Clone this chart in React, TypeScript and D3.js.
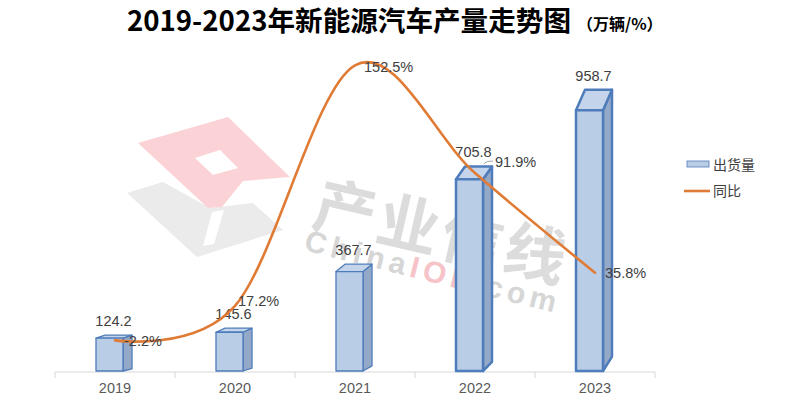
import React from 'react';
import * as d3 from 'd3';

const years = ['2019', '2020', '2021', '2022', '2023'];
const output = [124.2, 145.6, 367.7, 705.8, 958.7];
const yoy = [-2.2, 17.2, 152.5, 91.9, 35.8];
const yoyLabels = ['-2.2%', '17.2%', '152.5%', '91.9%', '35.8%'];
const outputLabels = ['124.2', '145.6', '367.7', '705.8', '958.7'];

const W = 788, H = 403;
const AXIS_Y = 372;
const LBL_OFF: [number, number][] = [[9, 6], [3, 0], [9, 7], [20, -6], [10, 5]];

export default function App() {
  const x = d3.scaleBand<string>().domain(years).range([55, 655]);
  const yL = d3.scaleLinear().domain([0, 1000]).range([AXIS_Y, AXIS_Y - 273]);
  const yR = d3.scaleLinear().domain([-20, 160]).range([AXIS_Y, 52]);
  const cx = (y: string) => (x(y) as number) + x.bandwidth() / 2;

  const pts: [number, number][] = years.map((y, i) => [cx(y), yR(yoy[i])]);
  const line = d3.line().curve(d3.curveCatmullRom.alpha(0))(pts) as string;

  const font = '"Liberation Sans", Arial, sans-serif';
  const cjk = '"Noto Sans CJK SC", "Noto Sans", sans-serif';
  const stroke = '#4F7CBA';
  const fs = 14.5;

  return (
    <svg width={W} height={H} style={{ position: 'absolute', left: 0, top: 0, background: '#fff' }}>
      {/* watermark */}
      <g>
        <polygon points="127,193 163,182 210,208 253,203 283,230 197,257" fill="#ebebeb" />
        <polygon points="138,143 228,117 290,177 243,181 222,207 208,208" fill="#fbd3d6" />
        <polygon points="195,158 220,150 238,168 213,175" fill="#ffffff" />
        <polygon points="212,212 224,210 214,244 203,246" fill="#ffffff" />
        <g transform="translate(310,225) rotate(13)">
          <text fontFamily={cjk} fontWeight={700} fontSize={62} fill="#dcdcdc" letterSpacing={3}>产业信线</text>
        </g>
        <g transform="translate(303,250) rotate(14)">
          <text fontFamily={font} fontWeight={700} fontSize={30} fill="#d6d6d6" letterSpacing={5}>
            China<tspan fill="#f6c4c8">IOL</tspan>.com
          </text>
        </g>
      </g>

      {/* title */}
      <text x={127} y={31} fontFamily={cjk} fontWeight={700} fontSize={27.6} fill="#000">2019-2023年新能源汽车产量走势图</text>
      <text x={577} y={30} fontFamily={cjk} fontWeight={700} fontSize={16} fill="#000">（万辆/%）</text>

      {/* axis */}
      <line x1={55} x2={655} y1={AXIS_Y} y2={AXIS_Y} stroke="#d9d9d9" strokeWidth={1} />
      {d3.range(years.length + 1).map(i => {
        const xx = 55 + i * x.bandwidth();
        return <line key={i} x1={xx} x2={xx} y1={AXIS_Y} y2={AXIS_Y + 6} stroke="#d9d9d9" />;
      })}
      {years.map(y => (
        <text key={y} x={cx(y)} y={393} textAnchor="middle" fontFamily={font} fontSize={fs} fill="#595959">{y}</text>
      ))}

      {/* bars */}
      {years.map((y, i) => {
        const c = cx(y);
        const x0 = c - 19, x1 = c + 8;
        const t = yL(output[i]);
        const base = AXIS_Y - 1;
        const dx = 9;
        const k = (c - cx(years[0])) / x.bandwidth();
        const dy = 3 + k * k * 1.1;
        const dyb = dy * 0.7;
        const sw = i < 3 ? 1.3 : 2.5;
        return (
          <g key={y} stroke={stroke} strokeWidth={sw} strokeLinejoin="round">
            <polygon points={`${x1},${t} ${x1 + dx},${t - dy} ${x1 + dx},${base - dyb} ${x1},${base}`} fill="#94A9C8" />
            <polygon points={`${x0},${t} ${x0 + dx},${t - dy} ${x1 + dx},${t - dy} ${x1},${t}`} fill="#C4D5EB" />
            <rect x={x0} y={t} width={x1 - x0} height={base - t} fill="#B9CDE6" />
            <text x={c - 1.5} y={t - dy - 9} textAnchor="middle" stroke="none" fontFamily={font} fontSize={fs} fill="#404040">{outputLabels[i]}</text>
          </g>
        );
      })}

      {/* line */}
      <path d={line} fill="none" stroke="#E07B35" strokeWidth={2.6} strokeLinecap="round" />
      <path d={`M${pts[3][0] + 9},${pts[3][1] - 9} Q${pts[3][0] + 10},${pts[3][1] - 12} ${pts[3][0] + 18},${pts[3][1] - 12}`} fill="none" stroke="#a6a6a6" strokeWidth={1} />
      {pts.map((p, i) => (
        <text key={i} x={p[0] + LBL_OFF[i][0]} y={p[1] + LBL_OFF[i][1]} fontFamily={font} fontSize={fs} fill="#404040">{yoyLabels[i]}</text>
      ))}

      {/* legend */}
      <rect x={687} y={161} width={22} height={6} fill="#B9CDE6" stroke={stroke} strokeWidth={0.8} />
      <text x={713} y={170} fontFamily={cjk} fontSize={14} fill="#404040">出货量</text>
      <line x1={684} x2={710} y1={191} y2={191} stroke="#E07B35" strokeWidth={2.6} />
      <text x={713} y={196} fontFamily={cjk} fontSize={14} fill="#404040">同比</text>
    </svg>
  );
}
